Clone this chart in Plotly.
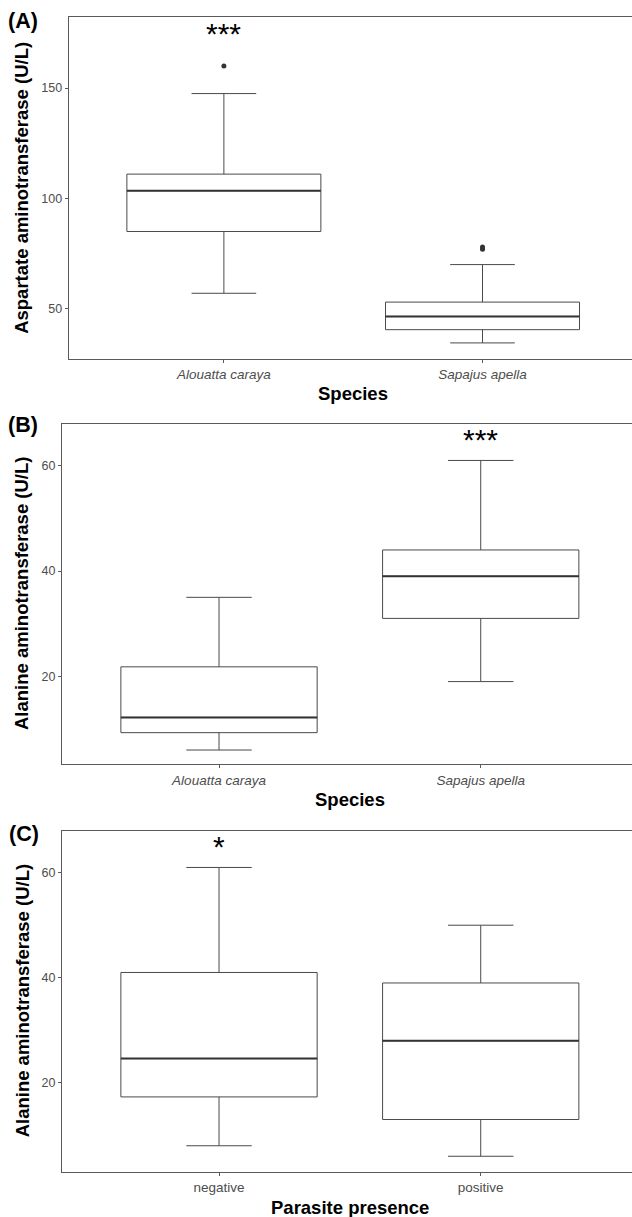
import plotly.graph_objects as go

W, H = 632, 1217

# ---------------- data ----------------
# Panel A: Aspartate aminotransferase by species
species = ["Alouatta caraya", "Sapajus apella"]
ast_lower = [57, 34.5]
ast_q1 = [85, 40.5]
ast_median = [103.5, 46.5]
ast_q3 = [111, 53]
ast_upper = [147.5, 70]
ast_outlier_group = [1, 2, 2]
ast_outlier_value = [160, 77, 78]

# Panel B: Alanine aminotransferase by species
alt_sp_lower = [6, 19]
alt_sp_q1 = [9.3, 31]
alt_sp_median = [12.2, 39]
alt_sp_q3 = [21.8, 44]
alt_sp_upper = [35, 61]

# Panel C: Alanine aminotransferase by parasite presence
parasite = ["negative", "positive"]
alt_pa_lower = [8, 6]
alt_pa_q1 = [17.3, 13]
alt_pa_median = [24.6, 28]
alt_pa_q3 = [41, 39]
alt_pa_upper = [61, 50]

# significance marks: (panel, group, label, height)
sig_panel = ["A", "B", "C"]
sig_group = [1, 2, 1]
sig_label = ["***", "***", "*"]
sig_height = [178.0, 66.3, 66.4]

# ---------------- layout geometry (pixels) ----------------
panels = {
    "A": dict(left=68.7, top=17, bottom=358.7, yr=[27.35, 182.2], yt=[50, 100, 150],
              ticktext=["<i>%s</i>" % s for s in species],
              ytitle="Aspartate aminotransferase (U/L)", xtitle="Species",
              stats=(ast_lower, ast_q1, ast_median, ast_q3, ast_upper)),
    "B": dict(left=62, top=423.7, bottom=764.3, yr=[3.29, 67.98], yt=[20, 40, 60],
              ticktext=["<i>%s</i>" % s for s in species],
              ytitle="Alanine aminotransferase (U/L)", xtitle="Species",
              stats=(alt_sp_lower, alt_sp_q1, alt_sp_median, alt_sp_q3, alt_sp_upper)),
    "C": dict(left=62, top=830.7, bottom=1172, yr=[3.0, 68.0], yt=[20, 40, 60],
              ticktext=parasite,
              ytitle="Alanine aminotransferase (U/L)", xtitle="Parasite presence",
              stats=(alt_pa_lower, alt_pa_q1, alt_pa_median, alt_pa_q3, alt_pa_upper)),
}
letters = {"A": (22.5, 21), "B": (23, 425), "C": (24, 834)}

BOX_W = 0.75
CAP_W = 0.25
LINE = "#4a4a4a"
AXC = "#5a5a5a"
FONT = "Liberation Sans, Arial, sans-serif"

fig = go.Figure()
layout = dict(width=W, height=H, margin=dict(l=0, r=0, t=0, b=0),
              paper_bgcolor="white", plot_bgcolor="white", showlegend=False,
              font=dict(family=FONT), annotations=[])

for i, key in enumerate(["A", "B", "C"]):
    p = panels[key]
    n = "" if i == 0 else str(i + 1)
    xa, ya = "x" + n, "y" + n
    lo, q1, md, q3, up = p["stats"]
    xs = [1, 2]
    fig.add_trace(go.Box(x=xs, q1=q1, median=md, q3=q3, lowerfence=lo, upperfence=up,
                         width=BOX_W, whiskerwidth=CAP_W / BOX_W, boxpoints=False,
                         fillcolor="white", line=dict(color=LINE, width=1),
                         xaxis=xa, yaxis=ya, hoverinfo="skip"))
    # thicker median line (ggplot fatten)
    mx, my = [], []
    for g, m in zip(xs, md):
        mx += [g - BOX_W / 2, g + BOX_W / 2, None]
        my += [m, m, None]
    fig.add_trace(go.Scatter(x=mx, y=my, mode="lines", line=dict(color="#333333", width=2),
                             xaxis=xa, yaxis=ya, hoverinfo="skip"))
    if key == "A":
        fig.add_trace(go.Scatter(x=ast_outlier_group, y=ast_outlier_value, mode="markers",
                                 marker=dict(color="#333333", size=5),
                                 xaxis=xa, yaxis=ya, hoverinfo="skip"))
    for sp, sg, sl, sh in zip(sig_panel, sig_group, sig_label, sig_height):
        if sp == key:
            layout["annotations"].append(dict(x=sg, y=sh, xref=xa, yref=ya, text=sl,
                                              showarrow=False, yshift=-7,
                                              font=dict(size=30, color="black", family=FONT)))

    layout["xaxis" + n] = dict(domain=[p["left"] / W, 1], range=[0.4, 2.578], anchor=ya,
                               tickvals=xs, ticktext=p["ticktext"], showline=True,
                               linecolor=AXC, linewidth=1, mirror=True, ticks="outside",
                               ticklen=3, tickcolor=AXC, showgrid=False, zeroline=False,
                               tickfont=dict(size=13.5, color="#4d4d4d", family=FONT))
    layout["yaxis" + n] = dict(domain=[1 - p["bottom"] / H, 1 - p["top"] / H], range=p["yr"],
                               anchor=xa, tickvals=p["yt"], showline=True, linecolor=AXC,
                               linewidth=1, ticks="outside", ticklen=3, tickcolor=AXC,
                               showgrid=False, zeroline=False,
                               tickfont=dict(size=12.5, color="#4d4d4d", family=FONT))
    cy = (p["top"] + p["bottom"]) / 2
    layout["annotations"].append(dict(x=22 / W, y=1 - cy / H, xref="paper", yref="paper",
                                      text="<b>%s</b>" % p["ytitle"], textangle=-90,
                                      showarrow=False, xanchor="center", yanchor="middle",
                                      font=dict(size=18.5, color="black", family=FONT)))
    cx = (p["left"] + 637.7) / 2
    layout["annotations"].append(dict(x=cx / W, y=1 - (p["bottom"] + 35) / H, xref="paper",
                                      yref="paper", text="<b>%s</b>" % p["xtitle"],
                                      showarrow=False, xanchor="center", yanchor="middle",
                                      font=dict(size=18.5, color="black", family=FONT)))
    lx, ly = letters[key]
    layout["annotations"].append(dict(x=lx / W, y=1 - ly / H, xref="paper", yref="paper",
                                      text="<b>(%s)</b>" % key, showarrow=False,
                                      xanchor="center", yanchor="middle",
                                      font=dict(size=21.5, color="black", family=FONT)))

fig.update_layout(**layout)
fig.write_html("out.html")
